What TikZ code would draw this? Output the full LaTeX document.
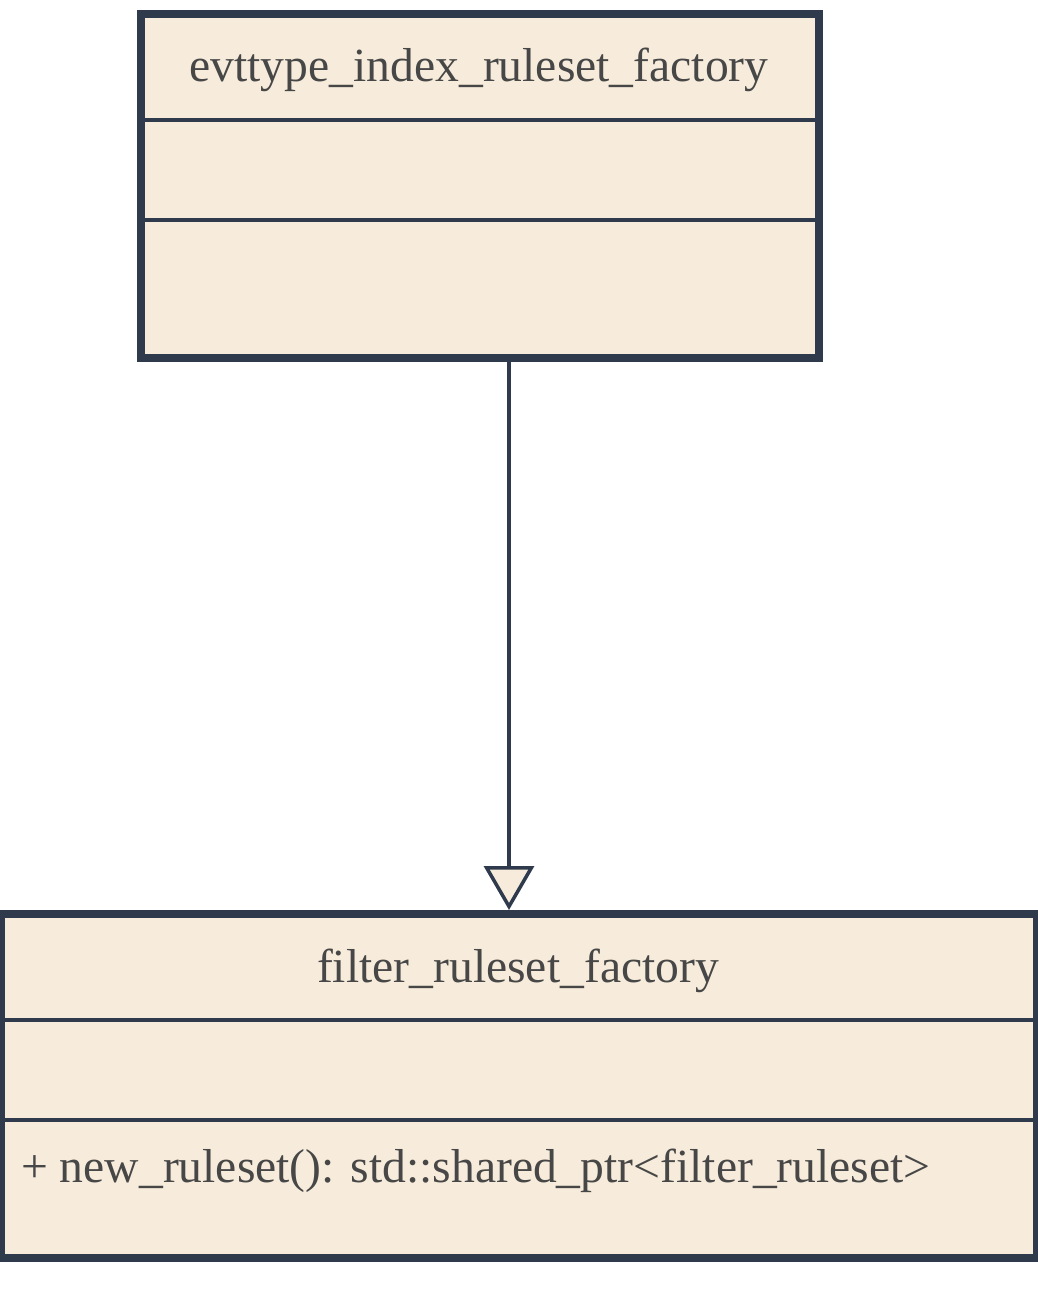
\documentclass[tikz,border=0pt]{standalone}
\usepackage{fontspec}
\setmainfont{Liberation Serif}
\usetikzlibrary{arrows.meta}
\definecolor{boxfill}{HTML}{F7ECDB}
\definecolor{boxline}{HTML}{2F3B4C}
\definecolor{txt}{HTML}{474747}
\begin{document}
\begin{tikzpicture}[x=1pt,y=-1pt,
  classbox/.style={draw=boxline, fill=boxfill, line width=8pt, outer sep=0pt, inner sep=0pt, minimum height=344pt},
  divider/.style={draw=boxline, line width=3.5pt},
  classname/.style={text=txt, font=\fontsize{47.6}{57}\selectfont, anchor=base, inner sep=0pt},
  member/.style={text=txt, font=\fontsize{47.6}{57}\selectfont, anchor=base west, inner sep=0pt},
  inherit/.style={draw=boxline, line width=3.5pt, -{Triangle[length=44pt,width=50pt,fill=boxfill,line join=miter]}}
]
\useasboundingbox (0,0) rectangle (1038,1294);
% top class
\node[classbox, minimum width=678pt] (top) at (480,186) {};
\draw[divider] ([yshift=-106pt]top.north west) -- ([yshift=-106pt]top.north east);
\draw[divider] ([yshift=-206pt]top.north west) -- ([yshift=-206pt]top.north east);
\node[classname] (topname) at (479,81) {evttype\_index\_ruleset\_factory};
% bottom class
\node[classbox, minimum width=1036pt] (bot) at (519,1086) {};
\draw[divider] ([yshift=-106pt]bot.north west) -- ([yshift=-106pt]bot.north east);
\draw[divider] ([yshift=-206pt]bot.north west) -- ([yshift=-206pt]bot.north east);
\node[classname] (botname) at (518,982) {filter\_ruleset\_factory};
\node[member] (botop) at (21,1182) {+ new\_ruleset(): std::shared\_ptr<filter\_ruleset>};
% inheritance
\coordinate (ax) at (509,0);
\draw[inherit] (top.south -| ax) -- ([yshift=4pt]bot.north -| ax);
\end{tikzpicture}
\end{document}
